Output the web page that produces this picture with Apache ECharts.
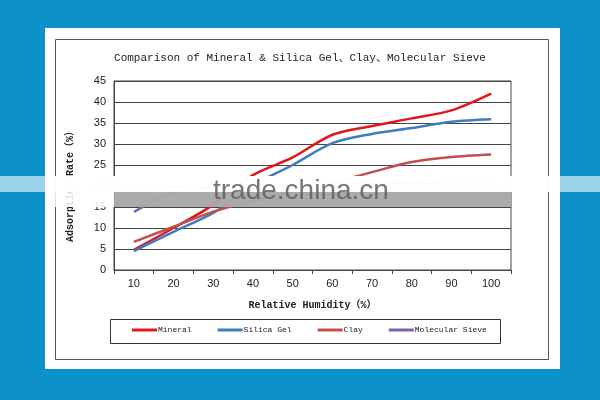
<!DOCTYPE html>
<html>
<head>
<meta charset="utf-8">
<script src="https://cdn.jsdelivr.net/npm/echarts@6/dist/echarts.min.js"></script>
<style>
html,body{margin:0;padding:0;background:#0c92c9;}
#c{width:600px;height:400px;}
</style>
</head>
<body>
<div id="c"></div>
<script>
const categories = ['10','20','30','40','50','60','70','80','90','100'];
const mineral   = [4.8, 10.0, 15.5, 22.6, 26.8, 32.2, 34.3, 36.1, 38.0, 42.0];
const silicaGel = [4.5,  9.1, 13.6, 20.2, 25.0, 30.2, 32.4, 33.8, 35.3, 35.9];
const clay      = [6.7, 10.3, 13.9, 16.5, 18.6, 20.8, 23.3, 25.7, 26.9, 27.5];
const sieve     = [13.8, 18.5, 19.5, 20.0, 20.3, 20.5, 20.7, 20.8, 21.0, 21.0];
const yTicks = {min: 0, max: 45, interval: 5};
const seriesNames = ['Mineral', 'Silica Gel', 'Clay', 'Molecular Sieve'];
const colors = ['#e3161c', '#3f7dbf', '#c0504d', '#7f63a8'];
const titleText = 'Comparison of Mineral & Silica Gel\u3001Clay\u3001Molecular Sieve';
const xName = 'Relative Humidity\uff08%\uff09';
const yName = 'Adsorption Rate\uff08%\uff09';

const chart = echarts.init(document.getElementById('c'), null, {renderer: 'canvas'});
const mono = '"Liberation Mono", "Noto Sans CJK SC", monospace';
const dataSets = [mineral, silicaGel, clay, sieve];

chart.setOption({
  backgroundColor: '#0c92c9',
  animation: false,
  title: {
    text: titleText, left: 'center', top: 48,
    textStyle: {fontFamily: mono, fontSize: 11, fontWeight: 'normal', color: '#222'}
  },
  grid: {left: 114, right: 89, top: 81, bottom: 130, show: true, borderColor: '#444', borderWidth: 1, backgroundColor: 'transparent', z: 3},
  legend: {
    data: seriesNames, left: 132, top: 326, itemWidth: 25, itemHeight: 3, itemGap: 26,
    icon: 'rect', padding: 0,
    textStyle: {fontFamily: mono, fontSize: 8, color: '#222', padding: [0,0,0,-4]}
  },
  xAxis: {
    type: 'category', data: categories, boundaryGap: true,
    name: xName, nameLocation: 'middle', nameGap: 30,
    nameTextStyle: {fontFamily: mono, fontSize: 10, fontWeight: 'bold', color: '#222'},
    axisLine: {lineStyle: {color: '#444', width: 1}},
    axisTick: {show: true, length: 4, lineStyle: {color: '#444'}},
    axisLabel: {fontFamily: '"Liberation Sans", sans-serif', fontSize: 11, color: '#222', margin: 8}
  },
  yAxis: {
    type: 'value', min: yTicks.min, max: yTicks.max, interval: yTicks.interval,
    axisLine: {show: true, lineStyle: {color: '#444', width: 1}},
    axisTick: {show: false},
    splitLine: {lineStyle: {color: '#444', width: 1}},
    axisLabel: {fontFamily: '"Liberation Sans", sans-serif', fontSize: 11, color: '#222', margin: 8}
  },
  series: seriesNames.map((n, i) => ({
    name: n, type: 'line', data: dataSets[i], smooth: 0.3, symbol: 'none',
    lineStyle: {color: colors[i], width: 2.5}, itemStyle: {color: colors[i]}, z: 5
  })),
  graphic: [
    {type: 'rect', shape: {x: 45, y: 28, width: 515, height: 341}, style: {fill: '#ffffff'}, z: -10, silent: true},
    {type: 'rect', shape: {x: 55.5, y: 39.5, width: 493, height: 320}, style: {fill: 'none', stroke: '#555', lineWidth: 1}, z: -9, silent: true},
    {type: 'rect', shape: {x: 110.5, y: 319.5, width: 390, height: 24}, style: {fill: 'none', stroke: '#333', lineWidth: 1}, z: 10, silent: true},
    {type: 'text', x: 70, y: 184, rotation: Math.PI / 2, style: {text: yName, font: 'bold 10px ' + mono, fill: '#222', align: 'center', verticalAlign: 'middle'}, z: 10, silent: true},
    // watermark band
    {type: 'rect', shape: {x: 0, y: 176, width: 600, height: 16}, style: {fill: 'rgba(255,255,255,0.6)'}, z: 50, silent: true},
    {type: 'rect', shape: {x: 45, y: 176, width: 515, height: 16}, style: {fill: 'rgba(255,255,255,0.93)'}, z: 50, silent: true},
    {type: 'rect', shape: {x: 114, y: 192, width: 397, height: 15}, style: {fill: 'rgba(168,168,168,0.97)'}, z: 50, silent: true},
    {type: 'rect', shape: {x: 45, y: 192, width: 69, height: 15}, style: {fill: 'rgba(255,255,255,0.85)'}, z: 50, silent: true},
    {type: 'text', x: 213, y: 205, style: {text: 'trade.china.cn', font: '28px "Liberation Sans", sans-serif', fill: 'rgba(95,95,95,0.85)', align: 'left', verticalAlign: 'bottom'}, z: 51, silent: true}
  ]
});
</script>
</body>
</html>
